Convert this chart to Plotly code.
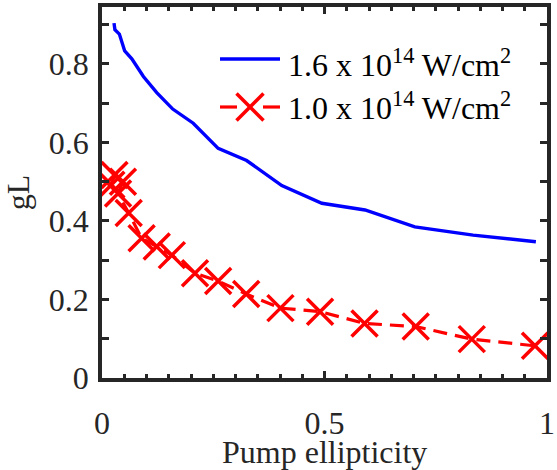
import plotly.graph_objects as go

# Pump ellipticity sweep
ellipticity_high = [0.027, 0.029, 0.039, 0.051, 0.067, 0.093, 0.123, 0.159, 0.205,
                    0.261, 0.325, 0.404, 0.494, 0.591, 0.703, 0.834, 0.975]
gain_high = [0.904, 0.887, 0.876, 0.833, 0.813, 0.768, 0.727, 0.685, 0.649,
             0.585, 0.554, 0.490, 0.445, 0.428, 0.385, 0.364, 0.347]

ellipticity_low = [0.021, 0.028, 0.047, 0.036, 0.060, 0.089, 0.123, 0.157, 0.209,
                   0.261, 0.324, 0.401, 0.490, 0.590, 0.705, 0.831, 0.973]
gain_low = [0.492, 0.517, 0.500, 0.470, 0.420, 0.356, 0.335, 0.313, 0.267,
            0.247, 0.214, 0.178, 0.169, 0.139, 0.131, 0.099, 0.082]

label_high = "1.6 x 10<sup>14</sup> W/cm<sup>2</sup>"
label_low = "1.0 x 10<sup>14</sup> W/cm<sup>2</sup>"
x_title = "Pump ellipticity"
y_title = "gL"

FONT = "Liberation Serif, Times New Roman, serif"
AXIS = "#262626"
FS = 32
BLUE = "#0000ff"
RED = "#ff0000"

W, H = 557, 470
ML, MR, MT, MB = 102, 10, 7, 92
PW, PH = W - ML - MR, H - MT - MB


def px(x):
    return (x - ML) / PW


def py(y):
    return (H - MB - y) / PH


fig = go.Figure()
fig.add_trace(go.Scatter(
    x=ellipticity_high, y=gain_high, mode="lines", name=label_high,
    line=dict(color=BLUE, width=3.4), showlegend=False,
))
fig.add_trace(go.Scatter(
    x=ellipticity_low, y=gain_low, mode="lines+markers", name=label_low,
    line=dict(color=RED, width=3.2, dash="14px,8px"),
    marker=dict(symbol="x-thin-open", size=26, color=RED,
                line=dict(color=RED, width=3.5)),
    showlegend=False,
))

axis_common = dict(
    showline=True, linecolor=AXIS, linewidth=3.5, mirror="ticks",
    ticks="inside", tickcolor=AXIS, tickwidth=2.5, ticklen=7,
    showgrid=False, zeroline=False, automargin=False,
    tickfont=dict(family=FONT, size=FS, color=AXIS),
)

fig.update_xaxes(
    range=[0, 1], tickvals=[0, 0.5, 1], ticktext=["0", "0.5", "1"],
    minor=dict(dtick=0.05, ticks="inside", ticklen=4, tickwidth=2.5, tickcolor=AXIS),
    ticklabelstandoff=14,
    **axis_common,
)
fig.update_yaxes(
    range=[0, 0.945], tickvals=[0, 0.2, 0.4, 0.6, 0.8],
    ticktext=["0", "0.2", "0.4", "0.6", "0.8"],
    minor=dict(dtick=0.1, ticks="inside", ticklen=7, tickwidth=2.5, tickcolor=AXIS),
    ticklabelstandoff=3,
    title=dict(text=y_title, font=dict(family=FONT, size=FS, color=AXIS), standoff=12),
    **axis_common,
)

# Legend drawn by hand so the symbol keeps the full marker size
shapes = [
    dict(type="line", xref="paper", yref="paper",
         x0=px(220), x1=px(280), y0=py(59), y1=py(59),
         line=dict(color=BLUE, width=3.4)),
    dict(type="line", xref="paper", yref="paper",
         x0=px(220), x1=px(237), y0=py(107), y1=py(107),
         line=dict(color=RED, width=3.2)),
    dict(type="line", xref="paper", yref="paper",
         x0=px(263), x1=px(280), y0=py(107), y1=py(107),
         line=dict(color=RED, width=3.2)),
    dict(type="line", xref="paper", yref="paper",
         x0=px(250 - 13.5), x1=px(250 + 13.5), y0=py(107 - 13.5), y1=py(107 + 13.5),
         line=dict(color=RED, width=3.5)),
    dict(type="line", xref="paper", yref="paper",
         x0=px(250 - 13.5), x1=px(250 + 13.5), y0=py(107 + 13.5), y1=py(107 - 13.5),
         line=dict(color=RED, width=3.5)),
]
annotations = [
    dict(text=label_high, xref="paper", yref="paper", x=px(286), y=py(63),
         xanchor="left", yanchor="middle", showarrow=False,
         font=dict(family=FONT, size=FS, color="black")),
    dict(text=label_low, xref="paper", yref="paper", x=px(286), y=py(106),
         xanchor="left", yanchor="middle", showarrow=False,
         font=dict(family=FONT, size=FS, color="black")),
    # x-axis title placed below the tick labels
    dict(text=x_title, xref="paper", yref="paper", x=0.5, y=py(452),
         xanchor="center", yanchor="middle", showarrow=False,
         font=dict(family=FONT, size=FS, color=AXIS)),
]

fig.update_layout(
    width=W, height=H,
    margin=dict(l=ML, r=MR, t=MT, b=MB),
    paper_bgcolor="white", plot_bgcolor="white",
    font=dict(family=FONT, size=FS, color=AXIS),
    showlegend=False,
    shapes=shapes,
    annotations=annotations,
)

fig.write_html("out.html")
